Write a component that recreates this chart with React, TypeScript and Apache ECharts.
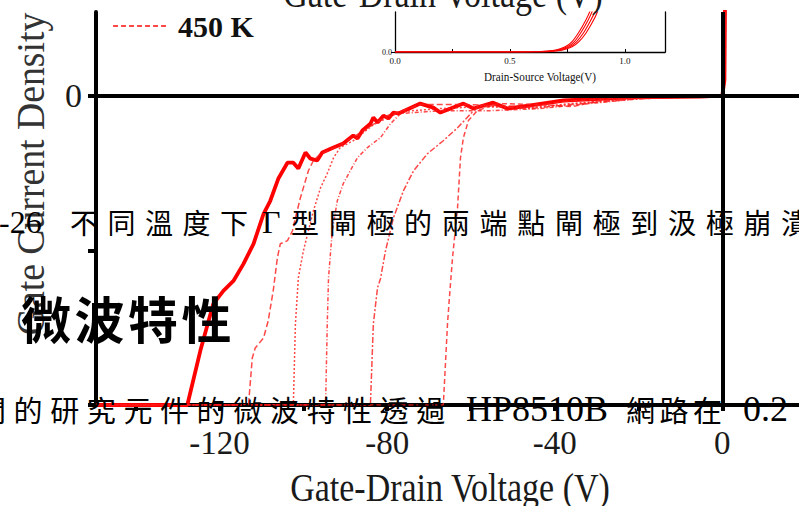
import React, { useEffect, useRef } from 'react';
import * as echarts from 'echarts';

// Gate-drain reverse sweeps: [gate-drain voltage (V), normalised gate current density]
const sweep300K: number[][] = [
  [-149.4, -1], [-127.7, -1], [-124.6, -0.825], [-121.5, -0.673], [-119.1, -0.631], [-116.7, -0.599],
  [-114.3, -0.544], [-111.9, -0.479], [-109.5, -0.382], [-107.9, -0.34], [-106.0, -0.269], [-103.8, -0.217],
  [-102.4, -0.217], [-101.2, -0.236], [-99.5, -0.184], [-98.3, -0.204], [-96.7, -0.21], [-95.5, -0.184],
  [-92.8, -0.168], [-90.5, -0.155], [-88.1, -0.129], [-87.1, -0.139], [-85.9, -0.113], [-84.0, -0.091],
  [-83.3, -0.071], [-82.3, -0.087], [-80.9, -0.065], [-79.7, -0.074], [-78.5, -0.055], [-77.3, -0.058],
  [-72.1, -0.026], [-69.0, -0.039], [-67.3, -0.055], [-61.8, -0.026], [-59.4, -0.042], [-54.7, -0.023],
  [-51.3, -0.042], [-45.8, -0.032], [-37.9, -0.016], [-22.0, -0.006], [-5.3, -0.003], [0, 0], [0.5, 0.05], [0.7, 0.4],
];
const sweep350K: number[][] = [
  [-149.4, -1], [-113.1, -1], [-112.2, -0.848], [-111.5, -0.816], [-109.5, -0.783], [-108.4, -0.728],
  [-107.2, -0.631], [-106.2, -0.524], [-105.5, -0.479], [-103.8, -0.469], [-102.6, -0.437], [-101.9, -0.395],
  [-100.7, -0.33], [-99.5, -0.275], [-98.8, -0.243], [-97.6, -0.21], [-95.9, -0.188], [-91.9, -0.165],
  [-86.4, -0.12], [-80.0, -0.065], [-72.1, -0.029], [-61.8, -0.029], [-45.8, -0.036], [-37.9, -0.019],
  [-22.0, -0.006], [-5.3, -0.003], [0, 0], [0.5, 0.05], [0.7, 0.4],
];
const sweep375K: number[][] = [
  [-149.4, -1], [-102.4, -1], [-101.9, -0.738], [-101.2, -0.589], [-100.0, -0.502], [-98.8, -0.437],
  [-97.6, -0.372], [-95.9, -0.298], [-94.3, -0.252], [-92.8, -0.201], [-91.2, -0.168], [-88.1, -0.146],
  [-83.3, -0.094], [-76.8, -0.052], [-67.3, -0.042], [-57.8, -0.036], [-45.8, -0.039], [-36.3, -0.026],
  [-22.0, -0.01], [-5.0, -0.003], [0, 0], [0.5, 0.05], [0.7, 0.4],
];
const sweep400K: number[][] = [
  [-149.4, -1], [-94.7, -1], [-94.3, -0.738], [-94.0, -0.589], [-93.1, -0.437], [-91.9, -0.34],
  [-90.5, -0.285], [-88.8, -0.243], [-87.1, -0.201], [-84.7, -0.168], [-81.6, -0.136], [-79.2, -0.091],
  [-76.8, -0.058], [-67.3, -0.049], [-55.4, -0.049], [-43.4, -0.042], [-36.3, -0.032], [-19.6, -0.01],
  [-4.0, -0.003], [0, 0], [0.5, 0.05], [0.7, 0.4],
];
const sweep425K: number[][] = [
  [-149.4, -1], [-84.0, -1], [-83.3, -0.738], [-82.3, -0.621], [-81.6, -0.592], [-80.4, -0.502],
  [-78.5, -0.395], [-76.1, -0.307], [-73.7, -0.243], [-70.4, -0.188], [-66.6, -0.146], [-63.2, -0.104],
  [-60.9, -0.071], [-59.4, -0.049], [-57.8, -0.032], [-45.8, -0.042], [-36.3, -0.029], [-19.6, -0.01],
  [-4.0, -0.003], [0, 0], [0.5, 0.05], [0.7, 0.4],
];
const sweep450K: number[][] = [
  [-149.4, -1], [-66.6, -1], [-65.6, -0.738], [-65.2, -0.663], [-64.4, -0.524], [-63.2, -0.362],
  [-62.5, -0.201], [-61.8, -0.136], [-60.6, -0.081], [-58.5, -0.049], [-53.7, -0.026], [-43.4, -0.029],
  [-35.8, -0.036], [-29.1, -0.016], [-17.2, -0.006], [-4.0, -0.003], [0, 0], [0.5, 0.05], [0.7, 0.4],
];

// Inset: forward drain-source sweeps [drain-source voltage (V), current]
const insetSweepA: number[][] = [
  [0, 0], [0.5, 0], [0.6, 0.005], [0.65, 0.015], [0.7, 0.05], [0.74, 0.13], [0.77, 0.26], [0.8, 0.5],
  [0.83, 0.8], [0.85, 1.05], [0.88, 1.5],
];
const insetSweepB: number[][] = [
  [0, 0], [0.5, 0], [0.61, 0.005], [0.66, 0.015], [0.71, 0.05], [0.75, 0.13], [0.78, 0.26], [0.81, 0.5],
  [0.84, 0.8], [0.86, 1.05], [0.89, 1.5],
];
const insetSweepC: number[][] = [
  [0, 0], [0.5, 0], [0.62, 0.005], [0.67, 0.015], [0.72, 0.05], [0.76, 0.13], [0.79, 0.26], [0.82, 0.48],
  [0.85, 0.78], [0.87, 1.02], [0.9, 1.5],
];
const insetSweepD: number[][] = [
  [0, 0], [0.5, 0], [0.63, 0.005], [0.68, 0.015], [0.73, 0.05], [0.77, 0.13], [0.8, 0.26], [0.83, 0.47],
  [0.86, 0.76], [0.88, 1.0], [0.91, 1.5],
];

const mainXLabels = [-120, -80, -40, 0];
const mainXTicks = [-140, -120, -100, -80, -60, -40, -20, 0];
const mainYTicks = [-1, -0.5, 0];
const mainYLabels = [0];
const insetXLabels = [0, 0.5, 1.0];
const insetXTicks = [0, 0.25, 0.5, 0.75, 1.0];
const insetYLabels = [0];

const SERIF = '"Liberation Serif", "Times New Roman", serif';
const CJK = '"Noto Sans CJK TC", "Noto Sans CJK SC", sans-serif';

type Run = { text: string; x: number; cjk: boolean; pitch?: number };

// Page text lines set over the figure
function runsToText(runs: Run[], y: number, cjkSize: number, latinSize: number, bold = false) {
  const out: any[] = [];
  runs.forEach((r) => {
    if (r.cjk) {
      Array.from(r.text).forEach((ch, i) => {
        out.push({
          type: 'text', z: 100, x: r.x + i * (r.pitch || cjkSize), y,
          style: { text: ch, fill: '#000', font: `${bold ? 'bold ' : ''}${cjkSize}px ${CJK}`, textAlign: 'left', textVerticalAlign: 'middle' },
        });
      });
    } else {
      out.push({
        type: 'text', z: 100, x: r.x, y,
        style: { text: r.text, fill: '#000', font: `${latinSize}px ${SERIF}`, textAlign: 'left', textVerticalAlign: 'middle' },
      });
    }
  });
  return out;
}

export default function App() {
  const ref = useRef<HTMLDivElement>(null);

  useEffect(() => {
    if (!ref.current) return;
    const chart = echarts.init(ref.current, undefined, { renderer: 'svg' });

    const thin = (name: string, data: number[][], dash: number[]) => ({
      name, type: 'line', data, xAxisIndex: 0, yAxisIndex: 0, showSymbol: false, symbol: 'none',
      lineStyle: { color: '#ff1a1a', width: 1.5, type: dash, opacity: 0.8 }, itemStyle: { color: '#ff1a1a' }, z: 3,
    });
    const insetLine = (name: string, data: number[][]) => ({
      name, type: 'line', data, xAxisIndex: 1, yAxisIndex: 1, showSymbol: false, symbol: 'none', smooth: 0.3,
      lineStyle: { color: '#ff0000', width: 1.1 }, z: 4,
    });

    const graphics: any[] = [
      ...runsToText([
        { text: '-26', x: -1, cjk: false },
        { text: '不同溫度下', x: 70, cjk: true, pitch: 37.5 },
        { text: 'Γ', x: 262, cjk: false },
        { text: '型閘極的兩端點閘極到汲極崩潰', x: 291, cjk: true, pitch: 37.7 },
      ], 222, 28, 32),
      ...runsToText([{ text: '微波特性', x: 21, cjk: true, pitch: 53.5 }], 317, 50, 50, true),
      ...runsToText([
        { text: '間的研究元件的微波特性透過', x: -23, cjk: true, pitch: 36.6 },
        { text: 'HP8510B', x: 466, cjk: false },
        { text: '網路在', x: 626, cjk: true, pitch: 33.5 },
        { text: '0.2', x: 743, cjk: false },
      ], 409, 29, 36),
      {
        type: 'text', z: 50, x: 450, y: 488, scaleX: 0.85,
        style: { text: 'Gate-Drain Voltage (V)', fill: '#1a1a1a', font: `40px ${SERIF}`, textAlign: 'center', textVerticalAlign: 'middle' },
      },
      {
        type: 'text', z: 50, x: 443, y: -6, scaleX: 0.85,
        style: { text: 'Gate-Drain Voltage (V)', fill: '#1a1a1a', font: `40px ${SERIF}`, textAlign: 'center', textVerticalAlign: 'middle' },
      },
      {
        type: 'text', z: 50, x: 30, y: 174, rotation: Math.PI / 2, scaleX: 0.92,
        style: { text: 'Gate Current Density', fill: '#333', font: `41px ${SERIF}`, textAlign: 'center', textVerticalAlign: 'middle' },
      },
      {
        type: 'text', z: 50, x: 540, y: 77, scaleX: 0.93,
        style: { text: 'Drain-Source Voltage(V)', fill: '#111', font: `12px ${SERIF}`, textAlign: 'center', textVerticalAlign: 'middle' },
      },
    ];

    chart.setOption({
      animation: false,
      backgroundColor: '#fff',
      legend: {
        data: ['450 K'], left: 107, top: 6, itemWidth: 55, itemHeight: 14, padding: 5,
        itemStyle: { opacity: 0 },
        textStyle: { fontFamily: SERIF, fontSize: 30, fontWeight: 'bold', color: '#111', padding: [0, 0, 0, 5] },
        selectedMode: false,
      },
      grid: [
        { left: 96, right: 0, top: 12, bottom: 101 },
        { left: 395, width: 270, top: 12, height: 40 },
      ],
      xAxis: [
        {
          type: 'value', gridIndex: 0, min: -149.5, max: 18.3, position: 'bottom',
          axisLine: { onZero: false, lineStyle: { color: '#000', width: 4 } },
          axisTick: { customValues: mainXTicks, length: 6, lineStyle: { color: '#000', width: 4 } },
          axisLabel: { customValues: mainXLabels, fontFamily: SERIF, fontSize: 33, color: '#1a1a1a', margin: 21 },
          splitLine: { show: false },
        },
        {
          type: 'value', gridIndex: 1, min: 0, max: 1.174, position: 'bottom',
          axisLine: { onZero: false, lineStyle: { color: '#000', width: 1.3 } },
          axisTick: { customValues: insetXTicks, inside: true, length: 3, lineStyle: { color: '#000', width: 1 } },
          axisLabel: { customValues: insetXLabels, formatter: (v: number) => v.toFixed(1), fontFamily: SERIF, fontSize: 9, color: '#111', margin: 4 },
          splitLine: { show: false },
        },
      ],
      yAxis: [
        {
          type: 'value', gridIndex: 0, min: -1, max: 0.27,
          axisLine: { show: true, onZero: false, lineStyle: { color: '#000', width: 4 } },
          axisTick: { show: true, customValues: mainYTicks, length: 8, lineStyle: { color: '#000', width: 4 } },
          axisLabel: { customValues: mainYLabels, fontFamily: SERIF, fontSize: 34, color: '#1a1a1a', margin: 14 },
          splitLine: { show: false },
        },
        {
          type: 'value', gridIndex: 1, min: 0, max: 1,
          axisLine: { show: true, onZero: false, lineStyle: { color: '#000', width: 1.3 } },
          axisTick: { show: true, customValues: insetYLabels, length: 4, lineStyle: { color: '#000', width: 1 } },
          axisLabel: { customValues: insetYLabels, formatter: (v: number) => v.toFixed(1), fontFamily: SERIF, fontSize: 8, color: '#111', margin: 3 },
          splitLine: { show: false },
        },
        {
          type: 'value', gridIndex: 1, min: 0, max: 1, position: 'right',
          axisLine: { show: true, onZero: false, lineStyle: { color: '#000', width: 1.3 } },
          axisTick: { show: false }, axisLabel: { show: false }, splitLine: { show: false },
        },
      ],
      series: [
        {
          name: '300 K', type: 'line', data: sweep300K, xAxisIndex: 0, yAxisIndex: 0, showSymbol: false, symbol: 'none',
          lineStyle: { color: '#ff0000', width: 3.8 }, itemStyle: { color: '#ff0000' }, z: 2,
          markLine: {
            silent: true, symbol: ['none', 'none'], label: { show: false }, z: 6,
            lineStyle: { color: '#000', width: 4, type: 'solid' },
            data: [{ xAxis: 0 }, { yAxis: 0 }],
          },
        },
        thin('350 K', sweep350K, [6, 3]),
        thin('375 K', sweep375K, [2, 2]),
        thin('400 K', sweep400K, [4, 2, 1, 2]),
        thin('425 K', sweep425K, [6, 2, 2, 2]),
        thin('450 K', sweep450K, [5, 3]),
        insetLine('inset A', insetSweepA),
        insetLine('inset B', insetSweepB),
        insetLine('inset C', insetSweepC),
        insetLine('inset D', insetSweepD),
      ],
      graphic: graphics,
    });

    return () => chart.dispose();
  }, []);

  return <div ref={ref} style={{ position: 'fixed', left: 0, top: 0, width: 799, height: 506 }} />;
}
